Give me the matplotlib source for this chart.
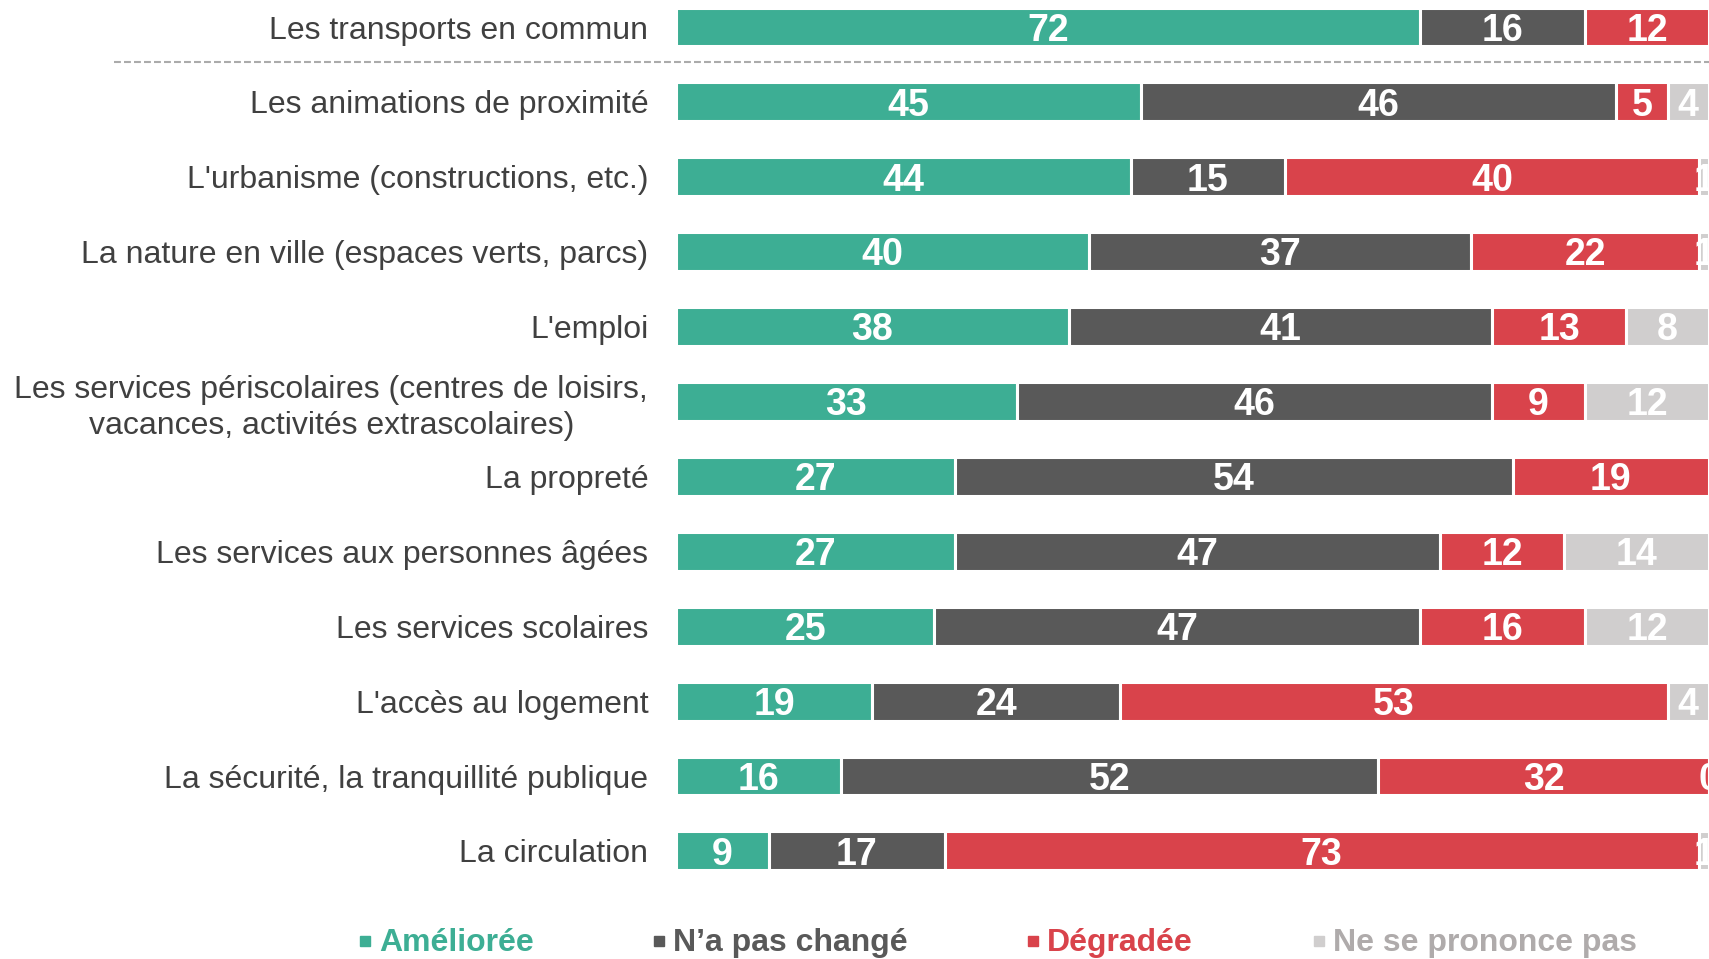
import numpy as np
import matplotlib.pyplot as plt
from matplotlib.lines import Line2D

categories = [
    "Les transports en commun",
    "Les animations de proximité",
    "L'urbanisme (constructions, etc.)",
    "La nature en ville (espaces verts, parcs)",
    "L'emploi",
    "Les services périscolaires (centres de loisirs,\nvacances, activités extrascolaires)",
    "La propreté",
    "Les services aux personnes âgées",
    "Les services scolaires",
    "L'accès au logement",
    "La sécurité, la tranquillité publique",
    "La circulation",
]
amelioree = [72, 45, 44, 40, 38, 33, 27, 27, 25, 19, 16, 9]
inchange = [16, 46, 15, 37, 41, 46, 54, 47, 47, 24, 52, 17]
degradee = [12, 5, 40, 22, 13, 9, 19, 12, 16, 53, 32, 73]
nsp = [np.nan, 4, 1, 1, 8, 12, np.nan, 14, 12, 4, 0, 1]

series_names = ["Améliorée", "N\u2019a pas changé", "Dégradée", "Ne se prononce pas"]
bar_colors = ["#3DAE94", "#595959", "#D9434B", "#D0CECE"]
legend_text_colors = ["#3DAE94", "#595959", "#D9434B", "#AFABAB"]

plt.rcParams["font.family"] = ["Liberation Sans", "DejaVu Sans"]

W, H = 1709, 959
fig = plt.figure(figsize=(W / 100, H / 100), dpi=100)
x0 = 676
ax = fig.add_axes([x0 / W, 0, 1033 / W, 1])

y = np.arange(len(categories))
left = np.zeros(len(categories))
for vals, col in zip([amelioree, inchange, degradee, nsp], bar_colors):
    v = np.array(vals, dtype=float)
    ok = ~np.isnan(v)
    ax.barh(y[ok], v[ok], left=left[ok], height=0.52, color=col,
            edgecolor="white", linewidth=2.2)
    for yi, li, vi in zip(y[ok], left[ok], v[ok]):
        ax.text(li + vi / 2, yi + 0.05, f"{vi:.0f}", ha="center", va="center",
                color="white", fontsize=27, fontweight="bold")
    left[ok] += v[ok]

ax.set_xlim(0, 100)
ax.set_ylim((H - 27) / 74.9, -27 / 74.9)
ax.set_yticks(y)
ax.set_yticklabels(categories, fontsize=23, color="#404040",
                   linespacing=1.28, multialignment="center")
ax.tick_params(axis="y", length=0, pad=20)
ax.set_xticks([])
for s in ax.spines.values():
    s.set_visible(False)

# separator under the first row
ax.plot([(114 - x0) / 1033, 1.0], [0.467, 0.467],
        transform=ax.get_yaxis_transform().__class__(ax.transAxes, ax.transData),
        color="#ABABAB", lw=1.5, dashes=(3.3, 1.5), clip_on=False)

# legend, laid out by hand
leg_x = [365, 659, 1033, 1319]
leg_y = 1 - 943 / H
for xs, name, c, tc in zip(leg_x, series_names, bar_colors, legend_text_colors):
    fig.add_artist(Line2D([xs / W], [leg_y + 0.002], marker="s", linestyle="none",
                          color=c, markersize=7, transform=fig.transFigure))
    fig.text((xs + 14) / W, leg_y, name, color=tc, fontsize=23, fontweight="bold",
             ha="left", va="center")

fig.savefig("out.png", dpi=100)
